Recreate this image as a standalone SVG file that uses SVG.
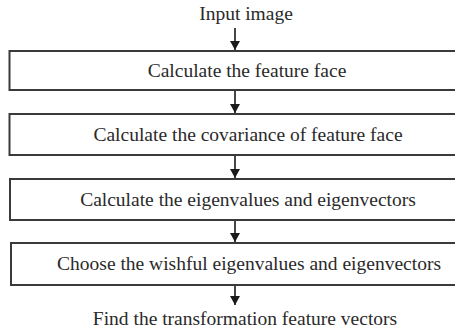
<svg xmlns="http://www.w3.org/2000/svg" width="455" height="332" viewBox="0 0 455 332">
<defs>
<style>
.box{fill:#fff;stroke:#3a3a3a;stroke-width:2}
.t{font-family:"Liberation Serif","Times New Roman",serif;font-size:19.5px;fill:#2a2a2a;text-anchor:middle}
.c{stroke:#1a1a1a;stroke-width:1.6;fill:none;marker-end:url(#ah)}
</style>
<marker id="ah" viewBox="0 0 10 11" refX="10" refY="5.5" markerWidth="11" markerHeight="10" markerUnits="userSpaceOnUse" orient="auto">
<path d="M0,0 L10,5.5 L0,11 z" fill="#1a1a1a"/>
</marker>
</defs>
<rect width="455" height="332" fill="#fff"/>
<g id="connectors">
<line class="c" x1="235" y1="28" x2="235" y2="50"/>
<line class="c" x1="235" y1="90" x2="235" y2="113"/>
<line class="c" x1="235" y1="155" x2="235" y2="178"/>
<line class="c" x1="235" y1="220" x2="235" y2="242"/>
<line class="c" x1="235" y1="285" x2="235" y2="305"/>
</g>
<g id="input"><text class="t" x="246" y="20">Input image</text></g>
<g id="step1"><rect class="box" x="9.5" y="51" width="470" height="39"/><text class="t" x="247" y="77">Calculate the feature face</text></g>
<g id="step2"><rect class="box" x="9.5" y="114" width="470" height="41"/><text class="t" x="248" y="141">Calculate the covariance of feature face</text></g>
<g id="step3"><rect class="box" x="10" y="179" width="470" height="41"/><text class="t" x="248" y="206">Calculate the eigenvalues and eigenvectors</text></g>
<g id="step4"><rect class="box" x="11" y="243" width="470" height="42"/><text class="t" x="249" y="270">Choose the wishful eigenvalues and eigenvectors</text></g>
<g id="output"><text class="t" x="245" y="325">Find the transformation feature vectors</text></g>
</svg>
